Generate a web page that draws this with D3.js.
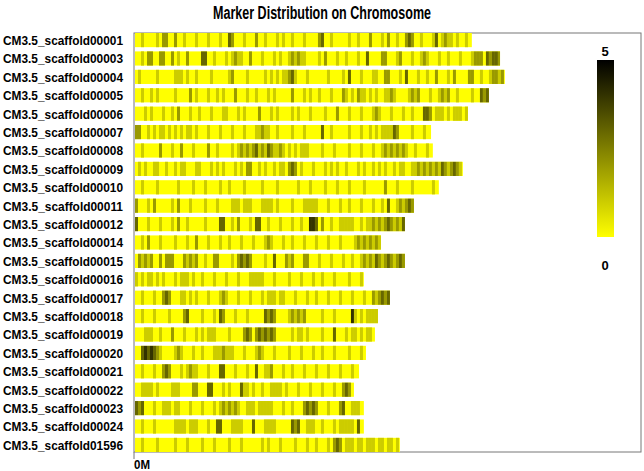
<!DOCTYPE html>
<html>
<head>
<meta charset="utf-8">
<script src="https://cdn.jsdelivr.net/npm/d3@7"></script>
<style>
  body { margin: 0; background: #fff; }
  text { font-family: "Liberation Sans", Arial, sans-serif; font-weight: bold; }
</style>
</head>
<body>
<script>
// scaffold names, top to bottom
const scaffolds = [
  "CM3.5_scaffold00001", "CM3.5_scaffold00003", "CM3.5_scaffold00004", "CM3.5_scaffold00005",
  "CM3.5_scaffold00006", "CM3.5_scaffold00007", "CM3.5_scaffold00008", "CM3.5_scaffold00009",
  "CM3.5_scaffold00010", "CM3.5_scaffold00011", "CM3.5_scaffold00012", "CM3.5_scaffold00014",
  "CM3.5_scaffold00015", "CM3.5_scaffold00016", "CM3.5_scaffold00017", "CM3.5_scaffold00018",
  "CM3.5_scaffold00019", "CM3.5_scaffold00020", "CM3.5_scaffold00021", "CM3.5_scaffold00022",
  "CM3.5_scaffold00023", "CM3.5_scaffold00024", "CM3.5_scaffold01596"
];

// scaffold length in Mb
const lengths = [11.23, 12.17, 12.33, 11.80, 11.10, 9.87, 9.93, 10.93, 10.13, 9.30, 9.00, 8.20,
  9.00, 7.63, 8.50, 8.10, 8.00, 7.70, 7.47, 7.30, 7.63, 7.63, 8.83];

// marker count per 0.1 Mb window (0-5), written in groups of ten windows
const binSize = 0.1;
const density = [
  "0010000102 2002001000 1000100010 0320001000 2001000101 0010001000 0230010000 0100100020 0010200100 2320010001 3012110100 10",
  "0010220022 0020100200 0033001000 1012110020 0010001010 0121211000 0102000100 1000100300 0022000120 0010012100 0100100010 0012220323 32",
  "0100000100 0001110100 1000010000 0120000100 0001010101 1231000100 0000100001 0300010001 1002200010 3000100100 2000102000 0220010012 212",
  "0010010100 0001000020 1000100101 0002000100 1000101000 0020001010 0100010002 1010211010 1001121000 0121200010 0121200100 00100323",
  "0001010001 0010200010 0100010001 1000101000 0200010100 0010100010 0001000200 0100010001 2100010001 0010003320 1110101110 1",
  "2200101011 0101010110 1000100010 0010001000 1121100100 0010001000 0030010000 0100010010 1011113200 001000100",
  "0010000020 0010020001 0000200100 0010121212 3121321121 0101011100 0010001000 0100010001 0012121212 100100010",
  "0101001100 1001011000 1100010101 0001010220 0101001011 0232010001 0001010100 1000101001 0101001011 0011212121 213212321",
  "0010000100 0000100001 0001000010 0100001000 0010000100 0000100010 0001000100 0100001000 0002000100 0010000001 0",
  "2000102000 0010200010 0001000100 0011101110 0011110100 0010001111 1000100010 0100010001 0010300121 232",
  "3000100010 0010200100 0001000033 0010200010 3300100010 0010010044 3020010011 1110010112 1212321213",
  "0010200010 0001000100 2000100010 0100010001 0001210001 0010001000 1000100010 0001212121 21",
  "0212120020 2220002121 2001002200 0010232320 0001003000 2120002200 0100010001 0010012121 3212321232",
  "1010110101 0001011101 0010001000 1000100011 1110001000 0100010001 0010001000 010001",
  "0010001002 3200011010 1000100012 1000100010 0010111011 0001000100 1000100010 0010001002 12323",
  "0010001000 0100002300 0010001032 0001000100 0003232000 0121212000 0010001000 0041010111 1",
  "0001110010 0020001000 1010111000 0100002320 2323232000 0010110100 0010003000 1011010110",
  "0034343210 0001210001 0010001112 1110001000 1210001000 0100010001 0010001000 0100010",
  "0010001002 3200010121 1000100033 0001000100 3001120001 0010001000 1000100010 00100",
  "0011110100 0011100002 2000330001 0100031101 0010011110 1000100010 0010001002 320",
  "3230001001 1101100010 0010001012 1212100111 0111110001 0010002323 2000100023 001110",
  "0010001000 0001111011 1000100330 0011110003 0001111000 0032300111 0010001011 111030",
  "0010000100 0001000100 0010001000 0100010000 0010100010 0001000100 1000102320 1110110111 01101101"
];

const legendMax = 5;

const width = 644;
const height = 471;
const plotLeft = 134;
const plotRight = 641;
const plotTop = 33;
const plotBottom = 452;

const svg = d3.select("body")
  .append("svg")
  .attr("width", width)
  .attr("height", height);

const x = d3.scaleLinear()
  .domain([0, 16.87])
  .range([plotLeft + 1, plotRight]);

const y = d3.scaleBand()
  .domain(scaffolds)
  .range([plotTop, plotBottom])
  .paddingInner(0.23)
  .paddingOuter(0);

const color = d3.scaleLinear()
  .domain([0, legendMax])
  .range(["#ffff00", "#000000"]);

svg.append("text")
  .attr("x", 322)
  .attr("y", 19)
  .attr("text-anchor", "middle")
  .attr("textLength", 218)
  .attr("lengthAdjust", "spacingAndGlyphs")
  .style("font-size", "18px")
  .text("Marker Distribution on Chromosome");

// frame
svg.append("rect")
  .attr("x", plotLeft)
  .attr("y", plotTop)
  .attr("width", plotRight - plotLeft)
  .attr("height", plotBottom - plotTop)
  .attr("fill", "none")
  .attr("stroke", "#777")
  .attr("stroke-width", 1);

svg.append("line")
  .attr("x1", plotLeft).attr("x2", plotLeft)
  .attr("y1", plotBottom).attr("y2", plotBottom + 7)
  .attr("stroke", "#777");

svg.append("text")
  .attr("x", plotLeft)
  .attr("y", plotBottom + 17)
  .attr("textLength", 16)
  .attr("lengthAdjust", "spacingAndGlyphs")
  .style("font-size", "13px")
  .text("0M");

const rows = svg.selectAll(".row")
  .data(scaffolds)
  .enter()
  .append("g")
  .attr("class", "row")
  .attr("transform", d => `translate(0, ${y(d)})`);

rows.append("rect")
  .attr("x", x(0))
  .attr("width", (d, i) => x(lengths[i]) - x(0))
  .attr("height", y.bandwidth())
  .attr("fill", color(0));

rows.each(function (d, i) {
  const bins = density[i].replace(/\s/g, "").split("").map(Number)
    .map((v, j) => ({ start: j * binSize, value: v }))
    .filter(b => b.value > 0 && b.start < lengths[i]);
  d3.select(this).selectAll(".bin")
    .data(bins)
    .enter()
    .append("rect")
    .attr("class", "bin")
    .attr("x", b => x(b.start))
    .attr("width", b => x(Math.min(b.start + binSize, lengths[i])) - x(b.start))
    .attr("height", y.bandwidth())
    .attr("fill", b => color(b.value));
});

rows.append("text")
  .attr("x", 3)
  .attr("y", y.bandwidth() / 2)
  .attr("dy", "0.36em")
  .attr("textLength", 120)
  .attr("lengthAdjust", "spacingAndGlyphs")
  .style("font-size", "13.5px")
  .text(d => d);

// colour legend
const defs = svg.append("defs");
const grad = defs.append("linearGradient")
  .attr("id", "legendGrad")
  .attr("x1", 0).attr("y1", 1)
  .attr("x2", 0).attr("y2", 0);
grad.selectAll("stop")
  .data(d3.range(0, legendMax + 1))
  .enter()
  .append("stop")
  .attr("offset", d => d / legendMax)
  .attr("stop-color", d => color(d));

const legendY = d3.scaleLinear()
  .domain([0, legendMax])
  .range([237, 60]);

svg.append("rect")
  .attr("x", 597)
  .attr("y", legendY(legendMax))
  .attr("width", 17)
  .attr("height", legendY(0) - legendY(legendMax))
  .attr("fill", "url(#legendGrad)");

svg.append("text")
  .attr("x", 605)
  .attr("y", legendY(legendMax) - 4)
  .attr("text-anchor", "middle")
  .style("font-size", "13px")
  .text(legendMax);

svg.append("text")
  .attr("x", 605)
  .attr("y", legendY(0) + 33)
  .attr("text-anchor", "middle")
  .style("font-size", "13px")
  .text(0);
</script>
</body>
</html>
